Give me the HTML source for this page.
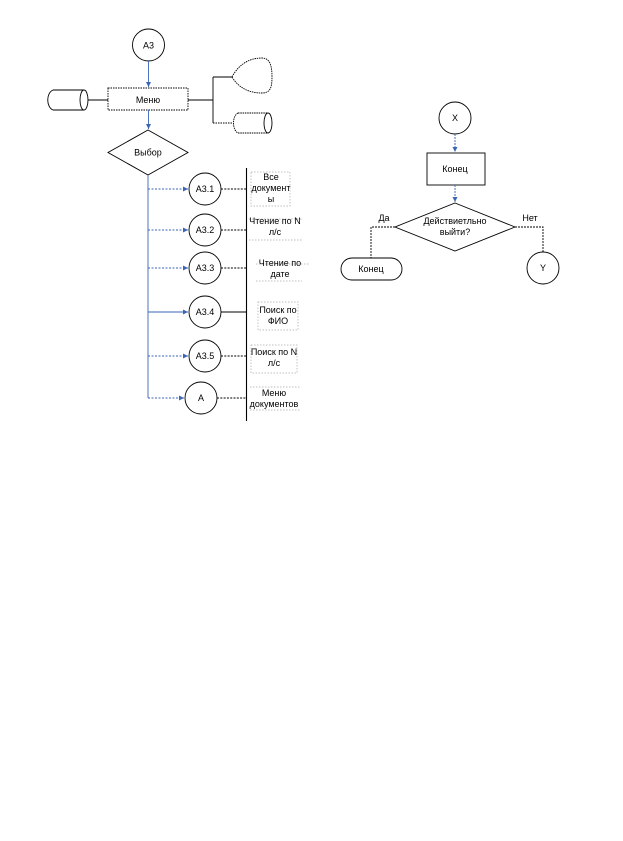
<!DOCTYPE html>
<html><head><meta charset="utf-8"><style>
html,body{margin:0;padding:0;background:#fff;}
svg{display:block;}
text{font-family:"Liberation Sans",sans-serif;font-size:9px;fill:#000;}
</style></head><body>
<svg width="623" height="841" viewBox="0 0 623 841" xmlns="http://www.w3.org/2000/svg">
<defs>
<marker id="ar" markerWidth="6" markerHeight="6" refX="5" refY="3" orient="auto" markerUnits="userSpaceOnUse">
<path d="M0,0.5 L5,3 L0,5.5 z" fill="#3a66b8"/>
</marker>
</defs>
<g fill="none" stroke-width="0.9">
<!-- A3 circle -->
<circle cx="148.5" cy="45" r="16" stroke="#000"/>
<line x1="148.5" y1="61" x2="148.5" y2="87" stroke="#3a66b8" marker-end="url(#ar)"/>
<!-- Menu rect -->
<rect x="108" y="88" width="80" height="22" stroke="#000" stroke-dasharray="1.5,1"/>
<!-- left cylinder -->
<path d="M53,90 L84,90 M53,110 L84,110 M53,90 C46,93 46,107 53,110" stroke="#000"/>
<ellipse cx="84" cy="100" rx="4" ry="10" stroke="#000"/>
<line x1="88" y1="100" x2="108" y2="100" stroke="#000"/>
<!-- right connections -->
<line x1="188" y1="100" x2="213" y2="100" stroke="#000"/>
<line x1="213" y1="77" x2="213" y2="123" stroke="#000"/>
<line x1="213" y1="77" x2="232" y2="77" stroke="#000"/>
<line x1="213" y1="123" x2="233" y2="123" stroke="#000" stroke-dasharray="1.5,1"/>
<!-- display shape -->
<path d="M232,77 C240,62 252,58 262,58 C270,58 272,66 272,77 C272,88 270,93 262,93 C252,93 240,90 232,77 z" stroke="#000" stroke-dasharray="1.5,0.8"/>
<!-- right cylinder -->
<path d="M238,113 L268,113 M238,133 L268,133 M238,113 C232,116 232,130 238,133" stroke="#000" stroke-dasharray="1.5,0.8"/>
<ellipse cx="268" cy="123" rx="4" ry="10" stroke="#000"/>
<line x1="148.5" y1="110" x2="148.5" y2="129" stroke="#3a66b8" marker-end="url(#ar)"/>
<!-- diamond Выбор -->
<polygon points="148,130 188,152.5 148,175 108,152.5" stroke="#000"/>
<!-- blue trunk -->
<line x1="148" y1="175" x2="148" y2="398" stroke="#3a66b8"/>
<g stroke="#3a66b8" stroke-dasharray="2,1.5">
<line x1="148" y1="189" x2="188" y2="189" marker-end="url(#ar)"/>
<line x1="148" y1="230" x2="188" y2="230" marker-end="url(#ar)"/>
<line x1="148" y1="268" x2="188" y2="268" marker-end="url(#ar)"/>
<line x1="148" y1="356" x2="188" y2="356" marker-end="url(#ar)"/>
<line x1="148" y1="398" x2="184" y2="398" marker-end="url(#ar)"/>
</g>
<line x1="148" y1="312" x2="188" y2="312" stroke="#3a66b8" marker-end="url(#ar)"/>
<!-- circles -->
<circle cx="205" cy="189" r="16" stroke="#000"/>
<circle cx="205" cy="230" r="16" stroke="#000"/>
<circle cx="205" cy="268" r="16" stroke="#000"/>
<circle cx="205" cy="312" r="16" stroke="#000"/>
<circle cx="205" cy="356" r="16" stroke="#000"/>
<circle cx="201" cy="398" r="16" stroke="#000"/>
<!-- connectors to vertical -->
<g stroke="#000" stroke-dasharray="2,1.3">
<line x1="221" y1="189" x2="246" y2="189"/>
<line x1="221" y1="230" x2="246" y2="230"/>
<line x1="221" y1="268" x2="246" y2="268"/>
<line x1="221" y1="356" x2="246" y2="356"/>
<line x1="217" y1="398" x2="246" y2="398"/>
</g>
<line x1="221" y1="312" x2="246" y2="312" stroke="#000"/>
<line x1="246.5" y1="168" x2="246.5" y2="421" stroke="#000" stroke-width="1.1"/>
<!-- label boxes -->
<g stroke="#aaa" stroke-dasharray="1.5,1.5" stroke-width="0.7">
<rect x="251" y="172" width="39" height="34"/>
<path d="M249,219 L302,219 M249,240 L302,240"/>
<path d="M256,264 L310,264 M256,281 L302,281"/>
<rect x="258" y="302" width="40" height="28"/>
<rect x="251" y="345" width="46" height="28"/>
<path d="M250,387 L300,387 M250,410 L300,410"/>
</g>
<!-- right diagram -->
<circle cx="455" cy="118" r="16" stroke="#000"/>
<line x1="455" y1="134" x2="455" y2="152" stroke="#3a66b8" stroke-dasharray="2,1" marker-end="url(#ar)"/>
<rect x="427" y="153" width="58" height="32" stroke="#000"/>
<line x1="455" y1="185" x2="455" y2="202" stroke="#3a66b8" stroke-dasharray="2,1" marker-end="url(#ar)"/>
<polygon points="455,203 515,227 455,251 395,227" stroke="#000"/>
<path d="M395,227 L371,227 L371,258" stroke="#000" stroke-dasharray="2,1"/>
<path d="M515,227 L543,227 L543,252" stroke="#000" stroke-dasharray="2,1"/>
<rect x="341" y="258" width="61" height="22" rx="11" ry="11" stroke="#000"/>
<circle cx="543" cy="268" r="16" stroke="#000"/>
</g>
<g text-anchor="middle">
<text x="148.5" y="48.5" font-size="10">А3</text>
<text x="148" y="103">Меню</text>
<text x="148" y="155.5">Выбор</text>
<text x="205" y="192">А3.1</text>
<text x="205" y="233">А3.2</text>
<text x="205" y="271">А3.3</text>
<text x="205" y="315">А3.4</text>
<text x="205" y="359">А3.5</text>
<text x="201" y="401">А</text>
<text x="271" y="180">Все</text>
<text x="271" y="191">документ</text>
<text x="271" y="202">ы</text>
<text x="275" y="224">Чтение по N</text>
<text x="275" y="235">л/с</text>
<text x="280" y="266">Чтение по</text>
<text x="280" y="277">дате</text>
<text x="278" y="313">Поиск по</text>
<text x="278" y="324">ФИО</text>
<text x="274" y="355">Поиск по N</text>
<text x="274" y="366">л/с</text>
<text x="274" y="396">Меню</text>
<text x="274" y="407">документов</text>
<text x="455" y="121">X</text>
<text x="455" y="172">Конец</text>
<text x="455" y="224">Действиетльно</text>
<text x="455" y="235">выйти?</text>
<text x="371" y="272">Конец</text>
<text x="543" y="271">Y</text>
<text x="384" y="221" font-size="8" fill="#555">Да</text>
<text x="530" y="221" font-size="8" fill="#555">Нет</text>
</g>
</svg>
</body></html>
